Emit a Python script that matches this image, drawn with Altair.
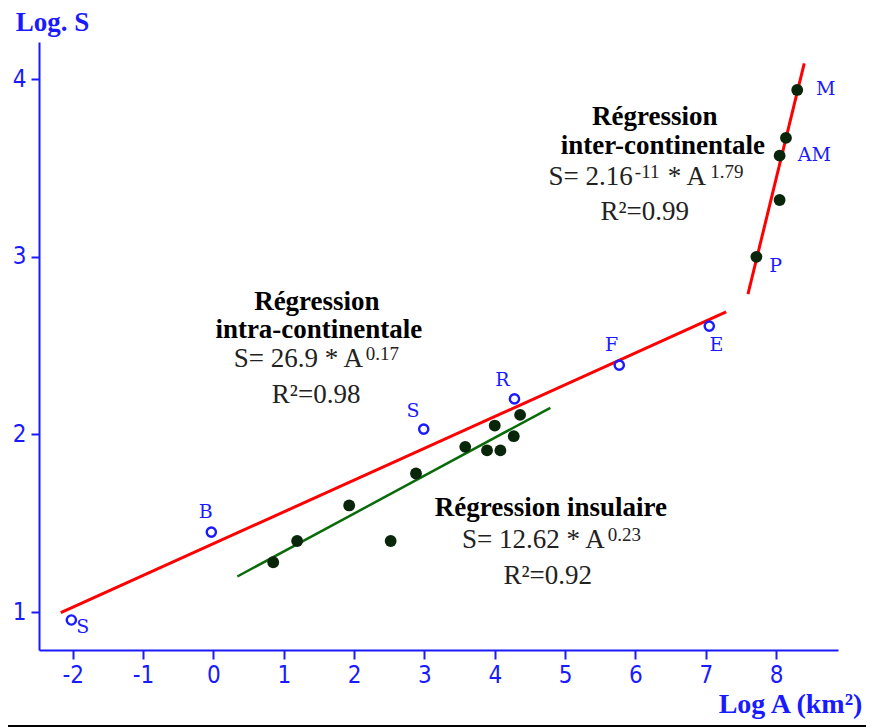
import altair as alt
import pandas as pd

# ---------------- data ----------------
# insular regression (black dots)
ins_x = [0.85, 1.19, 1.93, 2.52, 2.88, 3.58, 3.89, 4.08, 4.00, 4.27, 4.36]
ins_y = [1.28, 1.40, 1.60, 1.40, 1.78, 1.93, 1.91, 1.91, 2.05, 1.99, 2.11]

# inter-continental (black dots on steep line)
inter_names = ["P", "", "AM", "", "M"]
inter_x = [7.72, 8.05, 8.05, 8.14, 8.30]
inter_y = [3.00, 3.32, 3.57, 3.67, 3.94]

# intra-continental (open circles)
intra_names = ["S", "B", "S", "R", "F", "E"]
intra_x = [-2.02, -0.03, 2.99, 4.28, 5.77, 7.05]
intra_y = [0.955, 1.45, 2.03, 2.20, 2.39, 2.61]

# regression line end points
red_intra_x = [-2.17, 7.29]
red_intra_y = [0.996, 2.69]
red_inter_x = [7.60, 8.40]
red_inter_y = [2.79, 4.09]
green_x = [0.34, 4.79]
green_y = [1.20, 2.15]

x_ticks = [-2, -1, 0, 1, 2, 3, 4, 5, 6, 7, 8]
y_ticks = [1, 2, 3, 4]

# ---------------- label / annotation placement ----------------
label_text = ["S", "B", "S", "R", "F", "E", "M", "AM", "P"]
label_x = [-1.857, -0.108, 2.839, 4.110, 5.660, 7.152, 8.704, 8.543, 7.994]
label_y = [0.915, 1.564, 2.130, 2.309, 2.506, 2.506, 3.944, 3.574, 2.947]

title_text = ["Régression", "inter-continentale", "Régression", "intra-continentale", "Régression insulaire"]
title_x = [6.275, 6.39, 1.471, 1.499, 4.797]
title_y = [3.786, 3.623, 2.748, 2.590, 1.587]

# equation pieces: main text right-aligned at anchor, superscripts left-aligned
eq_main_text = ["S= 2.16", "S= 26.9 * A", "S= 12.62 * A"]
eq_main_x = [5.962, 2.127, 5.564]
eq_main_y = [3.448, 2.425, 1.403]
eq_mid_text = ["* A"]
eq_mid_x = [6.46]
eq_mid_y = [3.448]
eq_sup_text = ["-11", "1.79", "0.17", "0.23"]
eq_sup_x = [5.977, 7.05, 2.151, 5.593]
eq_sup_y = [3.448, 3.448, 2.425, 1.403]

r2_text = ["R²=0.99", "R²=0.98", "R²=0.92"]
r2_x = [6.133, 1.460, 4.753]
r2_y = [3.254, 2.224, 1.203]

# ---------------- styles ----------------
BLUE = "#1a1aff"
RED = "#ff0000"
GREEN = "#0b6b0b"
DOT = "#0a260a"
TXT = "#222222"
SERIF = "Liberation Serif"
NARROW = "Liberation Sans Narrow, DejaVu Sans Condensed, Liberation Sans, sans-serif"
LABFONT = "DejaVu Serif"

xs = alt.Scale(domain=[-2.48, 8.88], nice=False, zero=False)
ys = alt.Scale(domain=[0.786, 4.21], nice=False, zero=False)

x_axis = alt.Axis(
    values=x_ticks, labelExpr="'' + datum.value", grid=False,
    domainColor=BLUE, domainWidth=2, tickColor=BLUE, tickWidth=2, tickSize=9,
    labelColor=BLUE, labelFont=NARROW, labelFontSize=24, labelPadding=4,
    title="Log A (km²)", titleColor=BLUE, titleFont=SERIF, titleFontWeight="bold",
    titleFontSize=28, titleX=751, titleY=54, titleAlign="center", titleBaseline="middle",
)
y_axis = alt.Axis(
    values=y_ticks, labelExpr="'' + datum.value", grid=False,
    domainColor=BLUE, domainWidth=2, tickColor=BLUE, tickWidth=2, tickSize=8,
    labelColor=BLUE, labelFont=NARROW, labelFontSize=24, labelPadding=5,
    title="Log. S", titleColor=BLUE, titleFont=SERIF, titleFontWeight="bold",
    titleFontSize=27, titleAngle=0, titleX=13, titleY=-20, titleAlign="center",
    titleBaseline="middle",
)


def X():
    return alt.X("x:Q", scale=xs, axis=x_axis)


def Y():
    return alt.Y("y:Q", scale=ys, axis=y_axis)


df_ins = pd.DataFrame({"x": ins_x, "y": ins_y})
df_inter = pd.DataFrame({"x": inter_x, "y": inter_y, "name": inter_names})
df_intra = pd.DataFrame({"x": intra_x, "y": intra_y, "name": intra_names})
df_ri = pd.DataFrame({"x": red_intra_x, "y": red_intra_y})
df_re = pd.DataFrame({"x": red_inter_x, "y": red_inter_y})
df_g = pd.DataFrame({"x": green_x, "y": green_y})
df_lab = pd.DataFrame({"x": label_x, "y": label_y, "t": label_text})
df_tit = pd.DataFrame({"x": title_x, "y": title_y, "t": title_text})
df_eqm = pd.DataFrame({"x": eq_main_x, "y": eq_main_y, "t": eq_main_text})
df_eqmid = pd.DataFrame({"x": eq_mid_x, "y": eq_mid_y, "t": eq_mid_text})
df_eqs = pd.DataFrame({"x": eq_sup_x, "y": eq_sup_y, "t": eq_sup_text})
df_r2 = pd.DataFrame({"x": r2_x, "y": r2_y, "t": r2_text})

line_intra = alt.Chart(df_ri).mark_line(color=RED, strokeWidth=3).encode(x=X(), y=Y())
line_inter = alt.Chart(df_re).mark_line(color=RED, strokeWidth=3).encode(x=X(), y=Y())
line_green = alt.Chart(df_g).mark_line(color=GREEN, strokeWidth=2.5).encode(x=X(), y=Y())

pts_ins = alt.Chart(df_ins).mark_circle(color=DOT, size=140, opacity=1).encode(x=X(), y=Y())
pts_inter = alt.Chart(df_inter).mark_circle(color=DOT, size=140, opacity=1).encode(x=X(), y=Y())
pts_intra = alt.Chart(df_intra).mark_point(
    shape="circle", filled=False, color=BLUE, size=85, strokeWidth=2.4, opacity=1
).encode(x=X(), y=Y())

labels = alt.Chart(df_lab).mark_text(
    font=LABFONT, fontSize=19, color=BLUE, align="center", baseline="middle"
).encode(x=X(), y=Y(), text="t:N")

titles = alt.Chart(df_tit).mark_text(
    font=SERIF, fontSize=27, fontWeight="bold", color="#000000", align="center", baseline="middle"
).encode(x=X(), y=Y(), text="t:N")

eq_main = alt.Chart(df_eqm).mark_text(
    font=SERIF, fontSize=27, color=TXT, align="right", baseline="middle"
).encode(x=X(), y=Y(), text="t:N")

eq_mid = alt.Chart(df_eqmid).mark_text(
    font=SERIF, fontSize=27, color=TXT, align="left", baseline="middle"
).encode(x=X(), y=Y(), text="t:N")

eq_sup = alt.Chart(df_eqs).mark_text(
    font=SERIF, fontSize=19, color=TXT, align="left", baseline="middle", dx=1, dy=-5
).encode(x=X(), y=Y(), text="t:N")

r2 = alt.Chart(df_r2).mark_text(
    font=SERIF, fontSize=27, color=TXT, align="center", baseline="middle"
).encode(x=X(), y=Y(), text="t:N")

bottom_rule = alt.Chart(df_ri).mark_rule(color="#000000", strokeWidth=2).encode(
    x=alt.value(-39), x2=alt.value(840), y=alt.value(684)
)

chart = alt.layer(
    line_intra, line_inter, line_green, pts_ins, pts_inter, pts_intra,
    labels, titles, eq_main, eq_mid, eq_sup, r2, bottom_rule,
).properties(
    width=799, height=608,
    padding={"left": 31, "top": 34, "right": 28, "bottom": 78},
    autosize=alt.AutoSizeParams(type="none"),
    background="white",
).configure_view(stroke=None)

chart.save("out.html", embed_options={"renderer": "svg", "actions": False})
